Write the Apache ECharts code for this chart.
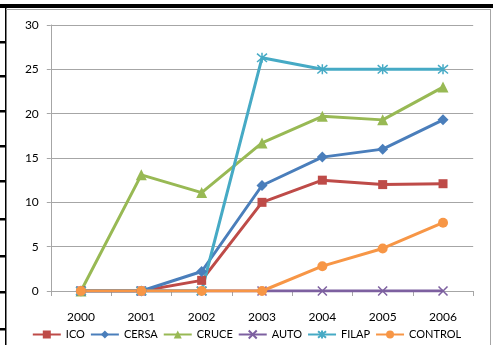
<!DOCTYPE html>
<html><head><meta charset="utf-8">
<script src="https://cdn.jsdelivr.net/npm/echarts@6/dist/echarts.min.js"></script>
<style>html,body{margin:0;padding:0;background:#fff}#c{width:493px;height:345px}</style>
</head><body><div id="c"></div>
<script>
const years = ['2000','2001','2002','2003','2004','2005','2006'];
const ICO = [0, 0, 1.2, 10, 12.5, 12, 12.1];
const CERSA = [0, 0, 2.2, 11.9, 15.1, 16, 19.3];
const CRUCE = [0, 13.1, 11.1, 16.7, 19.7, 19.3, 23];
const AUTO = [0, 0, 0, 0, 0, 0, 0];
const FILAP = [0, 0, 0, 26.3, 25, 25, 25];
const CONTROL = [0, 0, 0, 0, 2.8, 4.8, 7.7];
const yTicks = [0, 5, 10, 15, 20, 25, 30];

const FONT = 'Lato';
const chart = echarts.init(document.getElementById('c'), null, {renderer: 'canvas'});
function mk(name, data, color, symbol, size, stroke) {
  const s = {
    name, type: 'line', data, symbol, symbolSize: size,
    lineStyle: {color, width: 3},
    itemStyle: {color},
    animation: false
  };
  if (stroke) s.itemStyle = {color: 'none', borderColor: color, borderWidth: 1.5};
  return s;
}
const xPath = 'path://M0,0L10,10M10,0L0,10';
const starPath = 'path://M0,0L10,10M10,0L0,10M5,-1L5,11';
const tickYs = [42, 76, 111, 146, 181, 219, 256, 292, 329];
const graphics = [
  {type:'rect', shape:{x:0,y:4,width:493,height:4}, style:{fill:'#000'}},
  {type:'rect', shape:{x:5,y:8,width:1.5,height:337}, style:{fill:'#000'}},
  {type:'line', shape:{x1:6,y1:9.5,x2:490,y2:9.5}, style:{stroke:'#a6a6a6',lineWidth:1}},
  {type:'line', shape:{x1:490.5,y1:9,x2:490.5,y2:345}, style:{stroke:'#a6a6a6',lineWidth:1}}
];
tickYs.forEach(y => graphics.push({type:'rect', shape:{x:0,y:y-1,width:5,height:2.5}, style:{fill:'#000'}}));

chart.setOption({
  animation: false,
  grid: {left: 50.8, right: 19.8, top: 25, bottom: 54, containLabel: false},
  graphic: graphics,
  legend: {
    bottom: -1, left: 'center', width: 485, itemWidth: 28, itemHeight: 10, itemGap: 5,
    textStyle: {fontFamily: FONT, fontSize: 11, color: '#000'},
    data: ['ICO','CERSA','CRUCE','AUTO','FILAP','CONTROL']
  },
  xAxis: {
    type: 'category', data: years, boundaryGap: true,
    axisLine: {lineStyle: {color: '#a6a6a6', width: 1}},
    axisTick: {show: true, length: 5, lineStyle: {color: '#a6a6a6'}},
    axisLabel: {fontFamily: FONT, fontSize: 12, color: '#000', margin: 20}
  },
  yAxis: {
    type: 'value', min: yTicks[0], max: yTicks[yTicks.length-1], interval: 5,
    axisLine: {show: true, lineStyle: {color: '#a6a6a6', width: 1}},
    axisTick: {show: true, length: 4, lineStyle: {color: '#a6a6a6'}},
    axisLabel: {fontFamily: FONT, fontSize: 12, color: '#000', margin: 12},
    splitLine: {lineStyle: {color: '#a6a6a6', width: 1}}
  },
  series: [
    mk('ICO', ICO, '#BE4B48', 'rect', 9),
    mk('CERSA', CERSA, '#4A7EBB', 'diamond', 11),
    mk('CRUCE', CRUCE, '#98B954', 'triangle', 11),
    mk('AUTO', AUTO, '#7D60A0', xPath, 9, true),
    mk('FILAP', FILAP, '#46AAC5', starPath, 10, true),
    mk('CONTROL', CONTROL, '#F79646', 'circle', 10)
  ]
});
</script></body></html>
